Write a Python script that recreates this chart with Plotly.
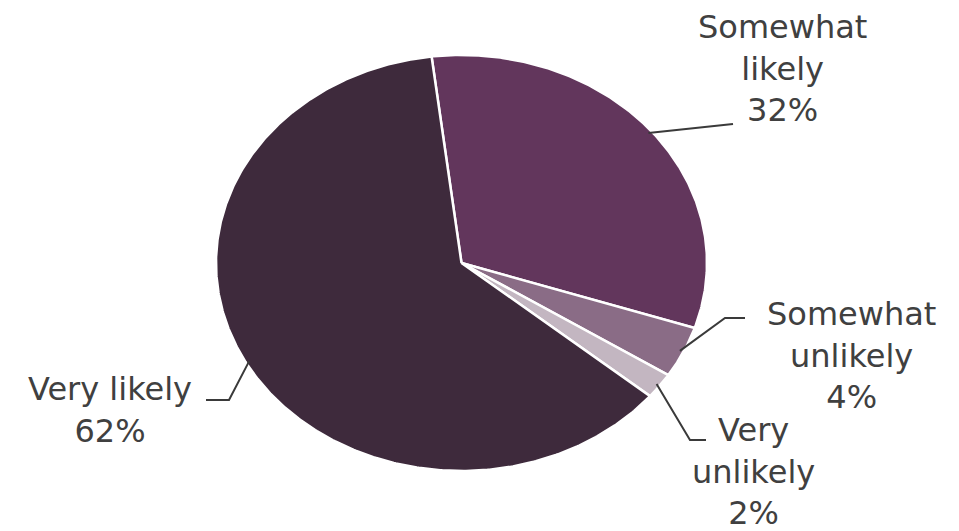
import numpy as np
import plotly.graph_objects as go

# ---- data ----
categories = ["Somewhat likely", "Somewhat unlikely", "Very unlikely", "Very likely"]
values = [32, 4, 2, 62]
label_text = ["Somewhat<br>likely<br>32%", "Somewhat<br>unlikely<br>4%",
              "Very<br>unlikely<br>2%", "Very likely<br>62%"]
colors = ["#62365c", "#8a6c86", "#c3b6c1", "#3e2a3c"]

# ---- geometry / style (pixel space) ----
W, H = 959, 531
cx, cy = 461.5, 263.0
rx, ry = 245.5, 208.0
start_deg = -7.0  # clockwise from 12 o'clock

label_pos = [(782, 68), (851, 355), (753, 471), (110, 410)]
# elbow and end of each leader line
leader_pts = [
    [(733, 124)],
    [(725, 318), (745, 318)],
    [(690, 440), (706, 440)],
    [(229, 400), (206, 400)],
]

fig = go.Figure()

total = float(sum(values))
cum = start_deg
mids = []
for name, v, c in zip(categories, values, colors):
    a0 = cum
    a1 = cum + 360.0 * v / total
    cum = a1
    mids.append((a0 + a1) / 2)
    phi = np.radians(np.linspace(a0, a1, max(int(abs(a1 - a0) * 2), 4)))
    xs = np.concatenate([[cx], cx + rx * np.sin(phi), [cx]])
    ys = np.concatenate([[cy], cy - ry * np.cos(phi), [cy]])
    fig.add_trace(go.Scatter(
        x=xs, y=ys, mode="lines", fill="toself", fillcolor=c,
        line=dict(color="white", width=2.5), name=name,
        hoverinfo="text", text=f"{name}: {v}%", showlegend=False))

shapes = []
for m, pts in zip(mids, leader_pts):
    r = np.radians(m)
    sx = cx + rx * 0.985 * np.sin(r)
    sy = cy - ry * 0.985 * np.cos(r)
    path = f"M {sx:.1f} {sy:.1f} " + " ".join(f"L {px} {py}" for px, py in pts)
    shapes.append(dict(type="path", path=path, xref="x", yref="y",
                       line=dict(color="#3a3a3a", width=2)))

annotations = []
for t, (lx, ly) in zip(label_text, label_pos):
    annotations.append(dict(x=lx, y=ly, xref="x", yref="y", text=t,
                            showarrow=False, xanchor="center", yanchor="middle",
                            align="center",
                            font=dict(family="DejaVu Sans", size=32, color="#404040")))

fig.update_layout(
    width=W, height=H,
    margin=dict(l=0, r=0, t=0, b=0),
    paper_bgcolor="white", plot_bgcolor="white",
    xaxis=dict(range=[0, W], visible=False, fixedrange=True),
    yaxis=dict(range=[H, 0], visible=False, fixedrange=True),
    shapes=shapes, annotations=annotations,
    showlegend=False,
)

fig.write_html("out.html")
